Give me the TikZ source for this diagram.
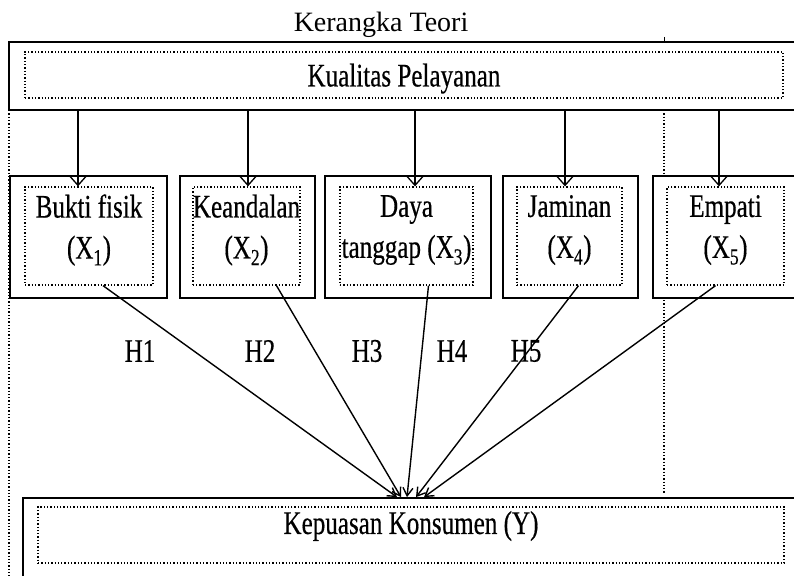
\documentclass[tikz,border=0pt]{standalone}
\usepackage{fontspec}
\setmainfont{Liberation Serif}
\newfontfamily\condfont[FakeStretch=0.76,FakeBold=0.4]{Liberation Serif}
\usetikzlibrary{arrows.meta}
\begin{document}
\begin{tikzpicture}[x=1pt,y=-1pt,
  outerbox/.style={draw, line width=1.8pt, inner sep=0pt},
  innerbox/.style={draw, dotted, line width=1.3pt, inner sep=0pt, align=center,
    text depth=19pt, font=\condfont\fontsize{33}{41}\selectfont},
  hlbl/.style={font=\condfont\fontsize{33}{41}\selectfont, inner sep=0pt},
  down/.style={-{Straight Barb[length=9pt,width=16pt]}, line width=1.3pt},
  conv/.style={-{Straight Barb[length=8pt,width=10pt]}, line width=1.4pt},
  guide/.style={dotted, line width=1.3pt}]
\useasboundingbox (0,0) rectangle (794,575);
\clip (0,0) rectangle (794,575);

% title
\node[font=\fontsize{28}{34}\selectfont, anchor=base, inner sep=0pt] (title) at (381,32) {Kerangka Teori};

% dotted guide lines
\coordinate (gl1) at (9,110);
\coordinate (gl2) at (9,580);
\draw[guide] (gl1) -- (gl2);
\coordinate (gr1) at (664,110);
\coordinate (gr2) at (664,173);
\coordinate (gr3) at (664,300);
\coordinate (gr4) at (664,493);
\draw[guide] (gr1) -- (gr2);
\draw[guide] (gr3) -- (gr4);
\coordinate (tk1) at (664,37);
\coordinate (tk2) at (664,42);
\draw[line width=1pt] (tk1) -- (tk2);

% top box
\node[outerbox, minimum width=791pt, minimum height=68pt] (ko) at (404.5,76) {};
\node[innerbox, text depth=0pt, minimum width=758pt, minimum height=46pt] (ki) at (404,75) {Kualitas Pelayanan};

% five boxes
\node[outerbox, minimum width=157pt, minimum height=122pt] (b1) at (88.5,237) {};
\node[innerbox, minimum width=128pt, minimum height=98pt] (i1) at (89,236) {Bukti fisik\\(X\textsubscript{1})};
\node[outerbox, minimum width=135pt, minimum height=122pt] (b2) at (247.5,237) {};
\node[innerbox, minimum width=103pt, minimum height=98pt] (i2) at (246.5,236) {Keandalan\\(X\textsubscript{2})};
\node[outerbox, minimum width=166pt, minimum height=122pt] (b3) at (408,237) {};
\node[innerbox, minimum width=133pt, minimum height=98pt] (i3) at (406.5,236) {Daya\\tanggap (X\textsubscript{3})};
\node[outerbox, minimum width=135pt, minimum height=122pt] (b4) at (570.5,237) {};
\node[innerbox, minimum width=105pt, minimum height=98pt] (i4) at (569.5,236) {Jaminan\\(X\textsubscript{4})};
\node[outerbox, minimum width=147pt, minimum height=122pt] (b5) at (726.5,237) {};
\node[innerbox, minimum width=117pt, minimum height=98pt] (i5) at (725.5,236) {Empati\\(X\textsubscript{5})};

% bottom box
\node[outerbox, minimum width=777pt, minimum height=92pt] (bo) at (411.5,544) {};
\node[innerbox, text depth=25pt, minimum width=746pt, minimum height=56pt] (bi) at (411,535) {Kepuasan Konsumen (Y)};

% down arrows
\coordinate (a1) at ([xshift=-11pt]i1.north);
\coordinate (a2) at ([xshift=1.5pt]i2.north);
\coordinate (a3) at ([xshift=8.5pt]i3.north);
\coordinate (a4) at ([xshift=-4.5pt]i4.north);
\coordinate (a5) at ([xshift=-6.5pt]i5.north);
\foreach \k in {1,...,5}{
  \draw[down] (a\k |- ko.south) -- (a\k);
}

% converging arrows
\coordinate (s1) at ([xshift=14pt]i1.south);
\coordinate (s2) at ([xshift=30pt]i2.south);
\coordinate (s3) at ([xshift=22pt]i3.south);
\coordinate (s4) at ([xshift=9pt]i4.south);
\coordinate (s5) at ([xshift=-10pt]i5.south);
\coordinate (t1) at ([xshift=-14.5pt]bo.north);
\coordinate (t2) at ([xshift=-10.5pt]bo.north);
\coordinate (t3) at ([xshift=-4.5pt]bo.north);
\coordinate (t4) at ([xshift=4.5pt]bo.north);
\coordinate (t5) at ([xshift=12.5pt]bo.north);
\foreach \k in {1,...,5}{
  \draw[conv] (s\k) -- (t\k);
}

% hypothesis labels
\node[hlbl] (h1) at (140,351) {H1};
\node[hlbl] (h2) at (260,351) {H2};
\node[hlbl] (h3) at (367,351) {H3};
\node[hlbl] (h4) at (452,351) {H4};
\node[hlbl] (h5) at (526,351) {H5};
\end{tikzpicture}
\end{document}
